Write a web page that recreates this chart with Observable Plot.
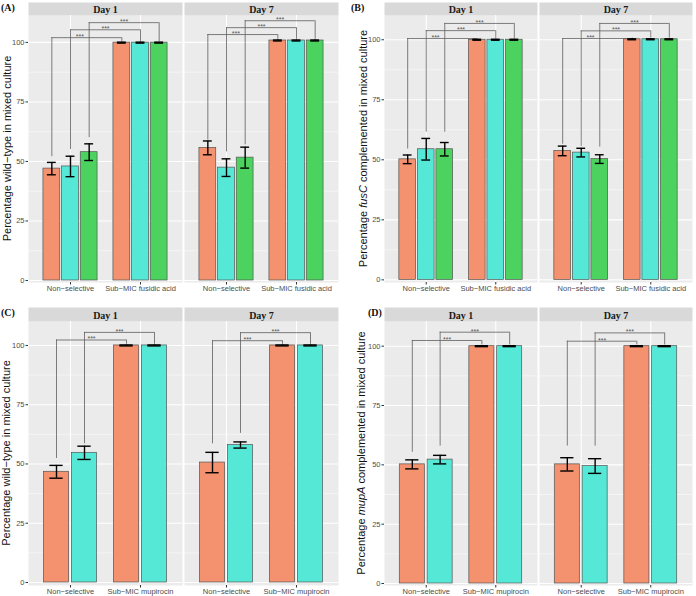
<!DOCTYPE html>
<html><head><meta charset="utf-8">
<script src="https://cdn.jsdelivr.net/npm/d3@7"></script>
<script src="https://cdn.jsdelivr.net/npm/@observablehq/plot@0.6"></script>
<style>
body{margin:0;background:#fff;}
#fig{position:relative;width:696px;height:596px;font-family:"Liberation Sans",Arial,sans-serif;}
.pl{position:absolute;}
.tag{position:absolute;font-family:"Liberation Serif","Times New Roman",serif;font-weight:bold;font-size:10px;line-height:10px;color:#111;}
</style></head><body>
<div id="fig"></div>
<script>
// ---- data ----
const days = ["Day 1", "Day 7"];
const condFus = ["Non−selective", "Sub−MIC fusidic acid"];
const condMup = ["Non−selective", "Sub−MIC mupirocin"];
const strains3 = ["Strain 1", "Strain 2", "Strain 3"];
const strains2 = ["Strain 1", "Strain 2"];
const strainColors = ["#F4916E", "#55E8D6", "#4CD35F"];
const yTicks = [0, 25, 50, 75, 100];
const yMinor = [12.5, 37.5, 62.5, 87.5];

// values ordered day > condition > strain
const meanA = [47.0, 47.9, 53.9, 99.9, 99.9, 99.9, 55.7, 47.4, 51.6, 100.8, 100.8, 100.8];
const errA  = [2.6, 4.3, 3.5, 0.2, 0.2, 0.2, 2.9, 3.7, 4.4, 0.2, 0.2, 0.2];
const meanB = [50.2, 54.4, 54.4, 100.0, 100.0, 100.0, 53.7, 53.0, 50.3, 100.2, 100.2, 100.2];
const errB  = [1.8, 4.5, 2.8, 0.2, 0.2, 0.2, 2.0, 1.8, 1.8, 0.2, 0.2, 0.2];
const meanC = [46.7, 54.7, 100.0, 100.0, 50.6, 58.0, 100.0, 100.0];
const errC  = [2.7, 2.8, 0.2, 0.2, 4.3, 1.3, 0.2, 0.2];
const meanD = [50.2, 52.2, 100.0, 100.0, 50.2, 49.5, 100.0, 100.0];
const errD  = [1.9, 1.8, 0.2, 0.2, 2.8, 3.1, 0.2, 0.2];

// significance brackets, ordered day > strain: bracket height and lower end of left leg
const levelA = [102.0, 105.3, 108.3, 103.3, 106.2, 109.1];
const tailA  = [52.0, 55.0, 60.0, 59.0, 54.0, 57.0];
const levelB = [100.5, 103.8, 106.8, 100.5, 103.7, 106.8];
const tailB  = [54.5, 61.5, 61.5, 56.5, 55.5, 55.3];
const levelC = [102.3, 105.5, 102.0, 105.4];
const tailC  = [52.3, 58.5, 58.5, 62.9];
const levelD = [102.4, 105.9, 102.1, 105.6];
const tailD  = [55.3, 57.9, 57.9, 57.9];
const sigLabel = "***";

// ---- drawing ----
const fig = document.getElementById("fig");

function drawPanel(o) {
  const n = o.strains.length, nc = o.conds.length;
  const dodge = 0.8, barW = 0.72 / n, capW = 0.38 / n;
  const xOf = (ci, si) => ci + 1 + (si - (n - 1) / 2) * dodge / n;
  const rows = [];
  days.forEach((day, di) => o.conds.forEach((c, ci) => o.strains.forEach((s, si) => {
    const k = di * nc * n + ci * n + si;
    rows.push({day, cond: c, strain: s, x: xOf(ci, si), mean: o.means[k], err: o.errs[k]});
  })));
  const brackets = [];
  days.forEach((day, di) => o.strains.forEach((s, si) => {
    const k = di * n + si;
    const sub = rows.find(r => r.day === day && r.cond === o.conds[1] && r.strain === s);
    brackets.push({day, si, xl: xOf(0, si), xr: xOf(1, si), level: o.levels[k], tail: o.tails[k],
      right: sub.mean + sub.err + 0.3});
  }));
  const plotH = o.height - o.mT - o.mB;
  const bracketStroke = "#5e5e5e";
  const svg = Plot.plot({
    width: o.width, height: o.height,
    marginLeft: o.mL, marginRight: o.mR, marginTop: o.mT, marginBottom: o.mB,
    style: {fontFamily: "'Liberation Sans', Arial, sans-serif", fontSize: "7.5px", color: "#4d4d4d", background: "none", overflow: "visible"},
    fx: {domain: days, paddingInner: 0.016, paddingOuter: 0, label: null},
    x: {domain: [0.4, 2.6]},
    y: {domain: o.yDomain},
    color: {domain: o.strains, range: strainColors.slice(0, n)},
    marks: [
      Plot.frame({fill: "#ebebeb", stroke: "none"}),
      Plot.frame({fill: "#d9d9d9", stroke: "none", insetTop: -o.stripH, insetBottom: plotH}),
      Plot.gridY(yMinor, {stroke: "white", strokeOpacity: 1, strokeWidth: 0.5}),
      Plot.gridY(yTicks, {stroke: "white", strokeOpacity: 1, strokeWidth: 1.1}),
      Plot.gridX([1, 2], {stroke: "white", strokeOpacity: 1, strokeWidth: 1.1}),
      Plot.axisFx({anchor: "top", tickSize: 0, tickPadding: 2.5, fontSize: 10, fontWeight: "bold",
        fontFamily: "'Liberation Serif', 'Times New Roman', serif", fill: "#1a1a1a", label: null}),
      Plot.axisY({ticks: yTicks, tickSize: 2.5, tickPadding: 1.5, label: null, fill: "#4d4d4d", stroke: "#333"}),
      Plot.axisX({ticks: [1, 2], tickFormat: v => o.conds[v - 1], tickSize: 2.5, tickPadding: 1, label: null, fill: "#4d4d4d", stroke: "#333"}),
      Plot.rect(rows, {fx: "day", x1: d => d.x - barW / 2, x2: d => d.x + barW / 2, y1: d => 0, y2: "mean",
        fill: "strain", stroke: "#555", strokeWidth: 0.7}),
      Plot.ruleX(brackets, {fx: "day", x: "xl", y1: "tail", y2: "level", stroke: bracketStroke, strokeWidth: 0.8}),
      Plot.ruleX(brackets, {fx: "day", x: "xr", y1: "right", y2: "level", stroke: bracketStroke, strokeWidth: 0.8}),
      Plot.ruleY(brackets, {fx: "day", y: "level", x1: "xl", x2: "xr", stroke: bracketStroke, strokeWidth: 0.8}),
      Plot.text(brackets, {fx: "day", x: d => (d.xl + d.xr) / 2 + (d.si === 0 ? o.starShift : 0), y: "level",
        text: d => sigLabel, fontSize: 7, fill: "#555", lineAnchor: "bottom", dy: 1.5}),
      Plot.ruleX(rows, {fx: "day", x: "x", y1: d => d.mean - d.err, y2: d => d.mean + d.err, stroke: "black", strokeWidth: 1.4}),
      Plot.ruleY(rows, {fx: "day", y: d => d.mean + d.err, x1: d => d.x - capW / 2, x2: d => d.x + capW / 2, stroke: "black", strokeWidth: 1.4}),
      Plot.ruleY(rows, {fx: "day", y: d => d.mean - d.err, x1: d => d.x - capW / 2, x2: d => d.x + capW / 2, stroke: "black", strokeWidth: 1.4})
    ]
  });
  const t = d3.select(svg).append("text")
    .attr("transform", `translate(${o.yLabelX},${(o.mT + o.height - o.mB) / 2}) rotate(-90)`)
    .attr("text-anchor", "middle").attr("dominant-baseline", "central")
    .style("font-size", "11px").style("fill", "#111");
  o.yLabel.forEach(([txt, it]) => t.append("tspan").text(txt).style("font-style", it ? "italic" : "normal"));
  const div = document.createElement("div");
  div.className = "pl";
  div.style.left = o.left + "px"; div.style.top = o.top + "px";
  div.appendChild(svg);
  fig.appendChild(div);
  const tag = document.createElement("div");
  tag.className = "tag"; tag.textContent = o.tag;
  tag.style.left = o.tagX + "px"; tag.style.top = o.tagY + "px";
  fig.appendChild(tag);
}

drawPanel({tag: "(A)", tagX: 1, tagY: 3, left: 0, top: 0, width: 346, height: 296, mL: 27, mR: 8, mT: 15, mB: 14, stripH: 13,
  conds: condFus, strains: strains3, means: meanA, errs: errA, levels: levelA, tails: tailA,
  yDomain: [-0.84, 111.3], starShift: -0.1, yLabelX: 6.5,
  yLabel: [["Percentage wild−type in mixed culture", false]]});
drawPanel({tag: "(B)", tagX: 351, tagY: 3, left: 348, top: 0, width: 348, height: 296, mL: 35, mR: 4, mT: 15, mB: 14, stripH: 13,
  conds: condFus, strains: strains3, means: meanB, errs: errB, levels: levelB, tails: tailB,
  yDomain: [-1.1, 110.1], starShift: -0.1, yLabelX: 15,
  yLabel: [["Percentage ", false], ["fusC", true], [" complemented in mixed culture", false]]});
drawPanel({tag: "(C)", tagX: 1, tagY: 308, left: 0, top: 306, width: 346, height: 290, mL: 27, mR: 8, mT: 15, mB: 11, stripH: 14,
  conds: condMup, strains: strains2, means: meanC, errs: errC, levels: levelC, tails: tailC,
  yDomain: [-1.27, 110.1], starShift: 0, yLabelX: 6,
  yLabel: [["Percentage wild−type in mixed culture", false]]});
drawPanel({tag: "(D)", tagX: 368, tagY: 308, left: 348, top: 306, width: 348, height: 290, mL: 35, mR: 4, mT: 15, mB: 11, stripH: 14,
  conds: condMup, strains: strains2, means: meanD, errs: errD, levels: levelD, tails: tailD,
  yDomain: [-0.84, 110.4], starShift: 0, yLabelX: 13,
  yLabel: [["Percentage ", false], ["mupA", true], [" complemented in mixed culture", false]]});
</script>
</body></html>
